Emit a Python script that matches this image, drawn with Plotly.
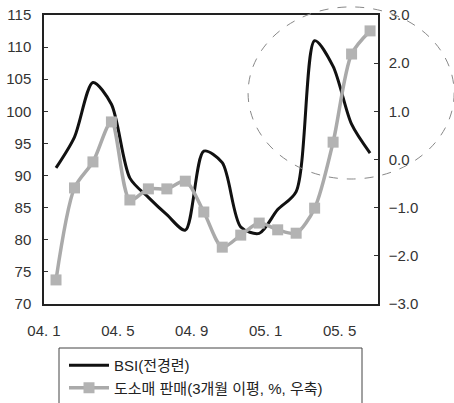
import plotly.graph_objects as go

months = list(range(18))
tick_text = ["04. 1", "04. 5", "04. 9", "05. 1", "05. 5"]
bsi = [91.2, 96.0, 104.5, 101.1, 89.6, 86.6, 83.9, 81.5, 93.8, 92.0,
       82.0, 81.0, 84.7, 87.5, 111.0, 107.0, 98.0, 93.5]
retail = [-2.50, -0.59, -0.05, 0.78, -0.84, -0.61, -0.61, -0.45, -1.09, -1.82,
          -1.57, -1.32, -1.46, -1.53, -1.01, 0.36, 2.19, 2.67]
left_ticks = list(range(70, 116, 5))
right_ticks = [-3, -2, -1, 0, 1, 2, 3]

TICKFONT = dict(family="Liberation Sans, Noto Sans CJK KR", size=15, color="#333")
XR = [-0.65, 17.43]
tickpos = [-0.65 + 4 * i for i in range(len(tick_text))]

fig = go.Figure()
fig.add_trace(go.Scatter(x=months, y=bsi, mode="lines", name="BSI(전경련)",
                         line=dict(color="#111111", width=3, shape="spline", smoothing=0.8),
                         xaxis="x", yaxis="y"))
fig.add_trace(go.Scatter(x=months, y=retail, mode="lines+markers",
                         name="도소매 판매(3개월 이평, %, 우축)",
                         line=dict(color="#aaaaaa", width=3.5, shape="spline", smoothing=0.8),
                         marker=dict(symbol="square", size=11, color="#b3b3b3"),
                         xaxis="x", yaxis="y2"))

fig.update_layout(
    width=454, height=403,
    margin=dict(l=44, r=76, t=15, b=99, autoexpand=False),
    paper_bgcolor="white", plot_bgcolor="white",
    showlegend=True,
    legend=dict(xref="container", yref="container", x=64 / 454, y=(403 - 349) / 403,
                xanchor="left", yanchor="top", itemwidth=40,
                font=dict(family="Liberation Sans, Noto Sans CJK KR", size=15, color="#222"),
                bgcolor="rgba(0,0,0,0)", borderwidth=0, tracegroupgap=0),
    xaxis=dict(range=XR, tickvals=tickpos, ticktext=tick_text, ticks="",
               showline=True, linecolor="#222", linewidth=1.5, mirror=True,
               showgrid=False, zeroline=False, tickfont=TICKFONT, ticklabelstandoff=12),
    xaxis2=dict(range=XR, overlaying="x", tickvals=[tickpos[2], tickpos[4]], ticks="inside",
                ticklen=5, tickcolor="#555", showticklabels=False, showline=False,
                showgrid=False, zeroline=False),
    yaxis=dict(range=[70, 115], tickvals=left_ticks, ticks="inside", ticklen=4,
               tickcolor="#333", showline=True, linecolor="#222", linewidth=1.5,
               showgrid=False, zeroline=False, tickfont=TICKFONT, ticklabelstandoff=8),
    yaxis2=dict(range=[-3, 3], tickvals=right_ticks, tickformat=".1f", overlaying="y",
                side="right", ticks="inside", ticklen=4, tickcolor="#333",
                showline=True, linecolor="#222", linewidth=1.5,
                showgrid=False, zeroline=False, tickfont=TICKFONT, ticklabelstandoff=6),
    shapes=[
        dict(type="circle", xref="paper", yref="paper", x0=0.611, x1=1.228, y0=0.4325, y1=1.028,
             line=dict(color="#888", width=1, dash="dash")),
        dict(type="rect", xref="paper", yref="paper", x0=(59 - 44) / 334, x1=(362 - 44) / 334,
             y0=-(404 - 304) / 289, y1=-(348 - 304) / 289,
             line=dict(color="#444", width=1)),
    ],
)
fig.write_html("out.html")
